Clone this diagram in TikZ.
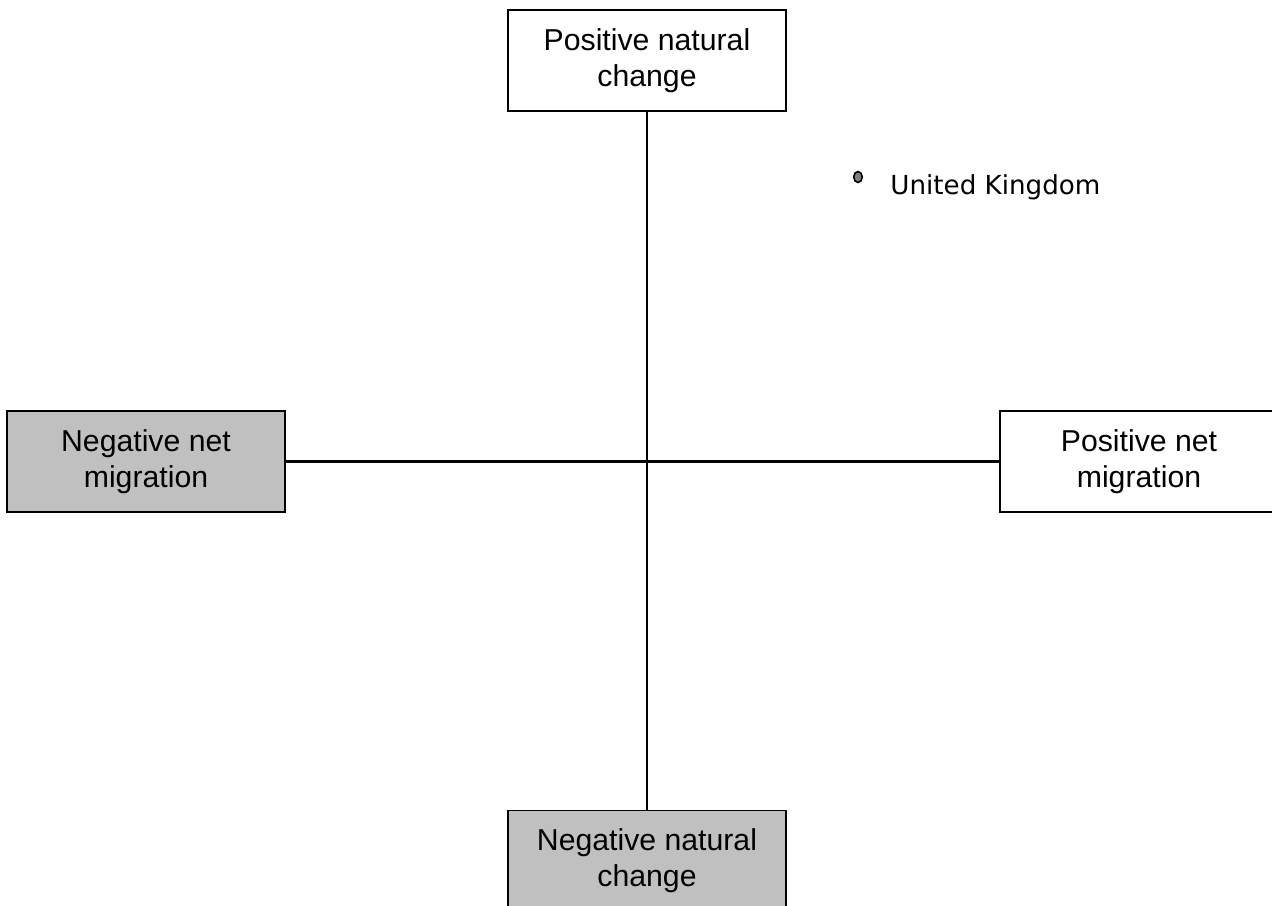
\documentclass[tikz,border=0pt]{standalone}
\usepackage{fontspec}
\setmainfont{Liberation Sans}
\newfontfamily\handfont{DejaVu Sans}
\usepackage{tikz}
\usetikzlibrary{positioning,shapes.geometric}
\definecolor{silvergrey}{HTML}{C0C0C0}
\tikzset{
axisbox/.style={
draw,
line width=0.8pt,
minimum width=5.56cm,
minimum height=2.02cm,
align=center,
fill=white,
font=\fontsize{17.2}{20.3}\selectfont
},
negbox/.style={
axisbox,
fill=silvergrey
},
axis/.style={
line width=1.2pt
},
countrydot/.style={
draw,
line width=0.9pt,
fill=gray,
ellipse,
inner sep=0pt,
minimum width=0.17cm,
minimum height=0.22cm
}
}

\begin{document}
\begin{tikzpicture}[x=0.02cm,y=-0.02cm]
\useasboundingbox (0,0) rectangle (1272,906);
\clip (0,0) rectangle (1272,906);
\node[axisbox](posnat) at (647,60.5){Positive natural\\change};
\node[negbox](negnat) at (647,861){Negative natural\\change};
\node[negbox](negmig) at (146,461.5){Negative net\\migration};
\node[axisbox](posmig) at (1139,461.5){Positive net\\migration};

\draw[axis](posnat)--(negnat);
\draw[axis](negmig)--(posmig);

\node[countrydot](uk) at (858,177){};
\node[anchor=base west,inner sep=0pt,font=\handfont\fontsize{14.9}{17}\selectfont](uklabel) at (890,194){United Kingdom};
\end{tikzpicture}
\end{document}
